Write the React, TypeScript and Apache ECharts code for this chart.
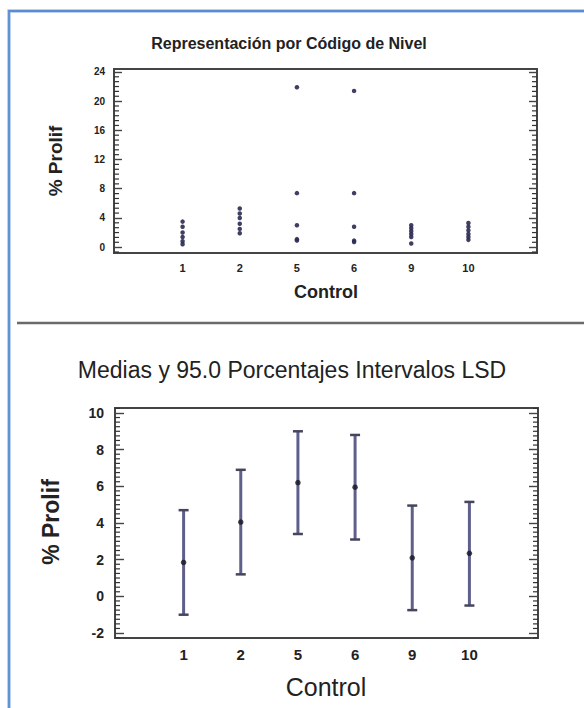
import React, { useEffect, useRef } from 'react';
import * as echarts from 'echarts';

// ---------- data ----------
const categories = ['1', '2', '5', '6', '9', '10'];

// Top chart: individual % Prolif observations per control level
const prolifC1 = [3.5, 2.8, 2.0, 1.4, 0.8, 0.4];
const prolifC2 = [5.3, 4.6, 4.0, 3.2, 2.5, 1.9];
const prolifC5 = [21.9, 7.4, 3.0, 1.1, 0.9];
const prolifC6 = [21.4, 7.4, 2.8, 0.9, 0.7];
const prolifC9 = [3.0, 2.6, 2.2, 1.8, 1.4, 0.5];
const prolifC10 = [3.3, 2.8, 2.3, 1.8, 1.4, 1.0];
const observations = [prolifC1, prolifC2, prolifC5, prolifC6, prolifC9, prolifC10];

// Bottom chart: means and 95% LSD intervals
const means = [1.85, 4.05, 6.2, 5.95, 2.1, 2.35];
const lsdLower = [-1.0, 1.2, 3.4, 3.1, -0.75, -0.5];
const lsdUpper = [4.7, 6.9, 9.0, 8.8, 4.95, 5.15];

// Tick labels
const topYTicks = [0, 4, 8, 12, 16, 20, 24];
const bottomYTicks = [-2, 0, 2, 4, 6, 8, 10];

const FONT = '"Liberation Sans", Arial, sans-serif';
const TEXT = '#222';
const FRAME = '#444444';
const X_MIN = -1.2;
const X_MAX = 6.2;

function minorList(min: number, max: number, step: number, majorStep: number) {
  const out: number[] = [];
  const start = Math.ceil(min / step);
  const end = Math.floor(max / step);
  for (let i = start; i <= end; i++) {
    const v = Math.round(i * step * 10000) / 10000;
    const q = v / majorStep;
    if (Math.abs(q - Math.round(q)) > 1e-6) out.push(v);
  }
  return out;
}

function yAxisPair(gridIndex: number, min: number, max: number, vals: number[], len: number, label: any) {
  const mk = (position: string, showLabel: boolean) => ({
    type: 'value',
    gridIndex,
    min,
    max,
    position,
    splitLine: { show: false },
    axisLine: { show: false, onZero: false },
    axisTick: {
      show: true,
      inside: true,
      length: len,
      customValues: vals,
      lineStyle: { color: FRAME, width: 1.4 },
    },
    axisLabel: showLabel ? { show: true, customValues: vals, ...label } : { show: false },
  });
  return [mk('left', true), mk('right', false)];
}

function xAxis(gridIndex: number, label: any) {
  return {
    type: 'value',
    gridIndex,
    position: 'bottom',
    min: X_MIN,
    max: X_MAX,
    splitLine: { show: false },
    axisLine: { show: false, onZero: false },
    axisTick: { show: false },
    axisLabel: {
      show: true,
      customValues: categories.map((_, i) => i),
      formatter: (v: number) => categories[Math.round(v)] ?? '',
      ...label,
    },
  };
}

// minor ticks on both frame sides, placed through the axis scale
function minorTickSeries(xAxisIndex: number, yAxisIndex: number, vals: number[], len: number) {
  return {
    type: 'custom',
    xAxisIndex,
    yAxisIndex,
    data: vals.map((v) => [0, v]),
    encode: { x: 0, y: 1 },
    renderItem: (params: any, api: any) => {
      const v = api.value(1);
      const l = api.coord([X_MIN, v]);
      const r = api.coord([X_MAX, v]);
      return {
        type: 'group',
        children: [
          {
            type: 'line',
            shape: { x1: l[0], y1: l[1], x2: l[0] + len, y2: l[1] },
            style: { stroke: '#333333', lineWidth: 1.2 },
          },
          {
            type: 'line',
            shape: { x1: r[0] - len, y1: r[1], x2: r[0], y2: r[1] },
            style: { stroke: '#333333', lineWidth: 1.2 },
          },
        ],
      };
    },
  };
}

export default function App() {
  const ref = useRef<HTMLDivElement>(null);

  useEffect(() => {
    if (!ref.current) return;
    const chart = echarts.init(ref.current, null, { renderer: 'svg' });

    const topMin = -0.8;
    const topMax = 24.4;
    const botMin = -2.27;
    const botMax = 10.27;

    const scatterData: number[][] = [];
    observations.forEach((arr, i) => arr.forEach((v) => scatterData.push([i, v])));

    const intervalData = categories.map((_, i) => [i, lsdLower[i], lsdUpper[i]]);
    const meanData = categories.map((_, i) => [i, means[i]]);

    const option: any = {
      animation: false,
      backgroundColor: '#ffffff',
      grid: [
        { left: 114, top: 69, width: 423, height: 184, show: true, borderColor: FRAME, borderWidth: 2, backgroundColor: 'transparent' },
        { left: 115, top: 408, width: 423, height: 230, show: true, borderColor: FRAME, borderWidth: 2, backgroundColor: 'transparent' },
      ],
      xAxis: [
        xAxis(0, { fontFamily: FONT, fontSize: 11, fontWeight: 'bold', color: TEXT, margin: 9 }),
        xAxis(1, { fontFamily: FONT, fontSize: 15, fontWeight: 'bold', color: TEXT, margin: 9 }),
      ],
      yAxis: [
        ...yAxisPair(0, topMin, topMax, topYTicks, 8, {
          fontFamily: FONT,
          fontSize: 10,
          fontWeight: 'bold',
          color: TEXT,
          margin: 9,
        }),
        ...yAxisPair(1, botMin, botMax, bottomYTicks, 9, {
          fontFamily: FONT,
          fontSize: 14,
          fontWeight: 'bold',
          color: TEXT,
          margin: 11,
        }),
      ],
      series: [
        minorTickSeries(0, 0, minorList(topMin, topMax, 4 / 6, 4), 5),
        minorTickSeries(1, 2, minorList(botMin, botMax, 0.25, 2), 5),
        {
          type: 'scatter',
          xAxisIndex: 0,
          yAxisIndex: 0,
          data: scatterData,
          symbol: 'circle',
          symbolSize: 4.5,
          itemStyle: { color: '#2a2a52', opacity: 0.9 },
        },
        {
          type: 'custom',
          xAxisIndex: 1,
          yAxisIndex: 2,
          data: intervalData,
          encode: { x: 0, y: [1, 2] },
          renderItem: (params: any, api: any) => {
            const x = api.value(0);
            const lo = api.coord([x, api.value(1)]);
            const hi = api.coord([x, api.value(2)]);
            const cap = 5;
            return {
              type: 'group',
              children: [
                {
                  type: 'line',
                  shape: { x1: lo[0], y1: lo[1], x2: hi[0], y2: hi[1] },
                  style: { stroke: '#5f5f8c', lineWidth: 3 },
                },
                {
                  type: 'line',
                  shape: { x1: hi[0] - cap, y1: hi[1], x2: hi[0] + cap, y2: hi[1] },
                  style: { stroke: '#45455e', lineWidth: 2.5 },
                },
                {
                  type: 'line',
                  shape: { x1: lo[0] - cap, y1: lo[1], x2: lo[0] + cap, y2: lo[1] },
                  style: { stroke: '#45455e', lineWidth: 2.5 },
                },
              ],
            };
          },
        },
        {
          type: 'scatter',
          xAxisIndex: 1,
          yAxisIndex: 2,
          data: meanData,
          symbol: 'circle',
          symbolSize: 5.5,
          itemStyle: { color: '#151520' },
          z: 5,
        },
      ],
      graphic: [
        {
          type: 'polyline',
          shape: { points: [[9, 708], [9, 11], [584, 11]] },
          style: { stroke: '#a8c4ea', lineWidth: 3.5, fill: 'none' },
          silent: true,
        },
        {
          type: 'polyline',
          shape: { points: [[9, 708], [9, 11], [584, 11]] },
          style: { stroke: '#5b8cd2', lineWidth: 1.8, fill: 'none' },
          silent: true,
        },
        {
          type: 'line',
          shape: { x1: 17, y1: 323, x2: 584, y2: 323 },
          style: { stroke: '#6a6a6a', lineWidth: 2.5 },
          silent: true,
        },
        {
          type: 'text',
          x: 289,
          y: 43,
          style: {
            text: 'Representación por Código de Nivel',
            fontFamily: FONT,
            fontSize: 16,
            fontWeight: 'bold',
            fill: TEXT,
            align: 'center',
            verticalAlign: 'middle',
          },
        },
        {
          type: 'text',
          x: 55,
          y: 161,
          rotation: Math.PI / 2,
          style: {
            text: '% Prolif',
            fontFamily: FONT,
            fontSize: 19,
            fontWeight: 'bold',
            fill: TEXT,
            align: 'center',
            verticalAlign: 'middle',
          },
        },
        {
          type: 'text',
          x: 326,
          y: 292,
          style: {
            text: 'Control',
            fontFamily: FONT,
            fontSize: 18,
            fontWeight: 'bold',
            fill: TEXT,
            align: 'center',
            verticalAlign: 'middle',
          },
        },
        {
          type: 'text',
          x: 292,
          y: 370,
          style: {
            text: 'Medias y 95.0 Porcentajes Intervalos LSD',
            fontFamily: FONT,
            fontSize: 23,
            fill: TEXT,
            align: 'center',
            verticalAlign: 'middle',
          },
        },
        {
          type: 'text',
          x: 51,
          y: 522,
          rotation: Math.PI / 2,
          style: {
            text: '% Prolif',
            fontFamily: FONT,
            fontSize: 23,
            fontWeight: 'bold',
            fill: TEXT,
            align: 'center',
            verticalAlign: 'middle',
          },
        },
        {
          type: 'text',
          x: 326,
          y: 687,
          style: {
            text: 'Control',
            fontFamily: FONT,
            fontSize: 25,
            fill: TEXT,
            align: 'center',
            verticalAlign: 'middle',
          },
        },
      ],
    };

    chart.setOption(option);
    return () => chart.dispose();
  }, []);

  return (
    <div
      ref={ref}
      style={{ position: 'absolute', left: 0, top: 0, width: 584, height: 708, background: '#fff' }}
    />
  );
}
